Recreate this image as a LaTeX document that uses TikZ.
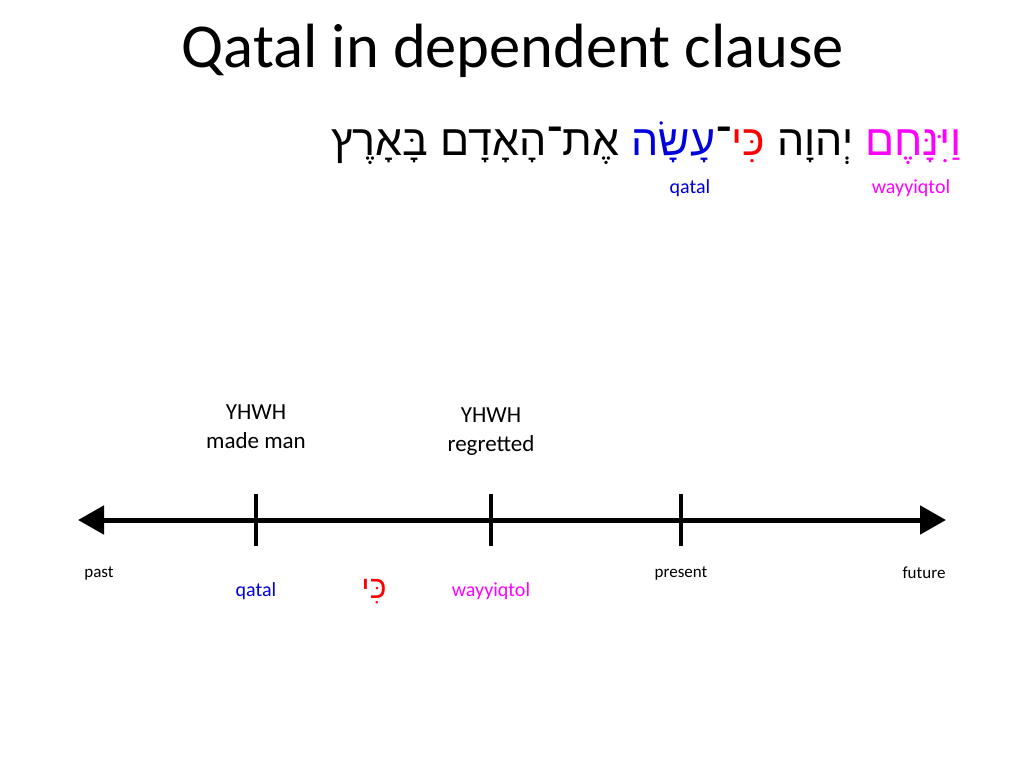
\documentclass[tikz,border=0pt]{standalone}
\usepackage{fontspec}
\setmainfont{Carlito}
\newfontfamily\hebfont[Script=Hebrew]{Liberation Sans}
\TeXXeTstate=1
\usetikzlibrary{arrows.meta}
\definecolor{qblue}{RGB}{0,0,220}
\definecolor{wmag}{RGB}{255,0,255}
\definecolor{kred}{RGB}{255,0,0}
\newcommand\hw[1]{\beginR #1\endR}
\begin{document}
\begin{tikzpicture}[x=1pt,y=-1pt,
  lbl/.style={inner sep=0pt, align=center, font=\fontsize{23}{29}\selectfont},
  small/.style={inner sep=0pt, font=\fontsize{17}{20}\selectfont},
  tag/.style={inner sep=0pt, font=\fontsize{20}{24}\selectfont},
  axis/.style={line width=5pt, {Triangle[length=26pt,width=28pt]}-{Triangle[length=26pt,width=28pt]}},
  tickmark/.style={line width=3.5pt}]
\useasboundingbox (0,0) rectangle (1024,768);
\node[inner sep=0pt, font=\fontsize{62.5}{70}\selectfont] (title) at (513,51) {Qatal in dependent clause};
\node[inner sep=0pt, anchor=east, font=\hebfont\fontsize{43}{46}\selectfont] (heb) at (962,143)
  {\hw{בָּאָרֶץ} \hw{אֶת־הָאָדָם} {\color{qblue}\hw{עָשָׂה}}\hw{־}{\color{kred}\hw{כִּי}} \hw{יְהוָה} {\color{wmag}\hw{וַיִּנָּחֶם}}};
\node[tag, text=qblue] (q1) at (690,188) {qatal};
\node[tag, text=wmag] (w1) at (911,188) {wayyiqtol};

\coordinate (L) at (78,520);
\coordinate (R) at (946,520);
\draw[axis] (L) -- (R);
\coordinate (t1) at (256,520);
\coordinate (t2) at (491,520);
\coordinate (t3) at (681,520);
\foreach \t in {t1,t2,t3} \draw[tickmark] (\t) ++(0,-26) -- ++(0,52);

\node[lbl] (made) at (256,427) {YHWH\\made man};
\node[lbl] (regr) at (491,432) {YHWH\\regretted};

\node[small] (past) at (99,573) {past};
\node[small] (pres) at (681,573) {present};
\node[small] (fut) at (924,573) {future};

\node[tag, text=qblue] (q2) at (256,591) {qatal};
\node[tag, text=kred, font=\hebfont\fontsize{32}{34}\selectfont] (ki) at (374,592) {\hw{כִּי}};
\node[tag, text=wmag] (w2) at (491,591) {wayyiqtol};
\end{tikzpicture}
\end{document}
